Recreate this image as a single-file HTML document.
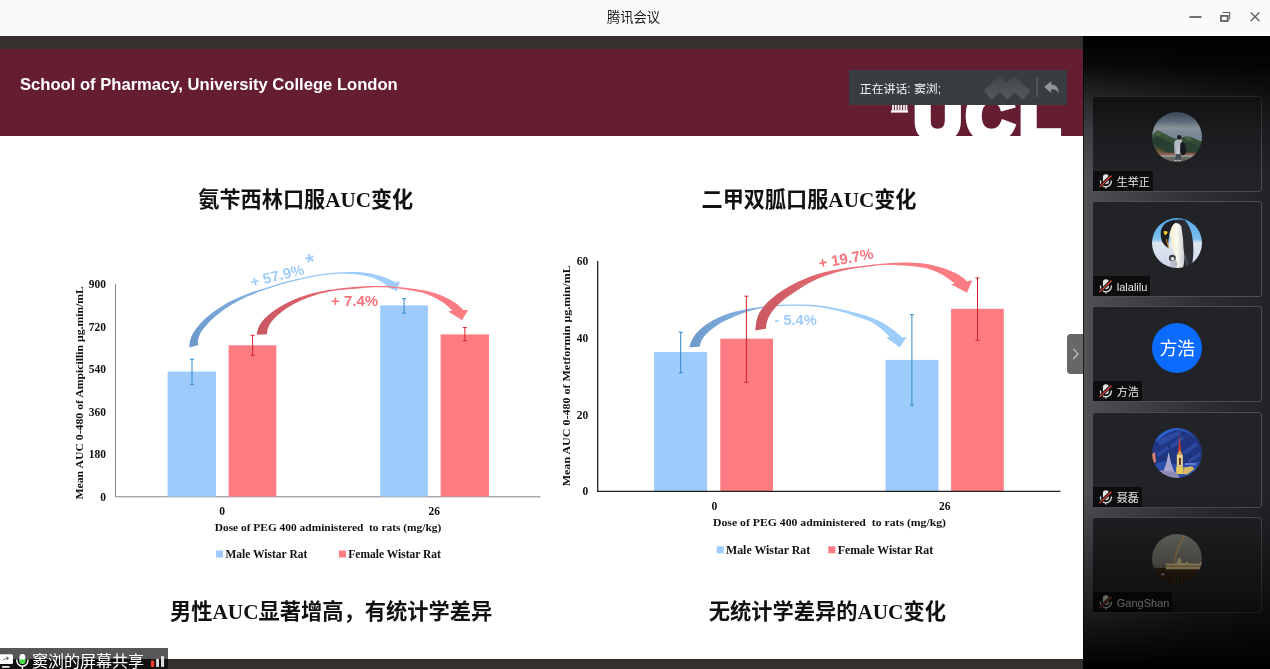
<!DOCTYPE html>
<html lang="zh-CN">
<head>
<meta charset="utf-8">
<title>腾讯会议</title>
<style>
html,body{margin:0;padding:0;}
body{width:1270px;height:669px;overflow:hidden;position:relative;background:#fff;font-family:"Liberation Sans","Noto Sans CJK SC",sans-serif;}
.abs{position:absolute;}
#titlebar{left:0;top:0;width:1270px;height:35px;background:#fafafa;border-bottom:1px solid #fff;}
#apptitle{left:-1.5px;width:1270px;top:8.6px;height:18px;line-height:18px;text-align:center;font-size:13.3px;color:#1a1a1a;}
#stage{left:0;top:36px;width:1083px;height:633px;background:#35302e;overflow:hidden;}
#slide{left:0;top:13px;width:1083px;height:610px;background:#fff;overflow:hidden;}
#banner{left:0;top:0;width:1083px;height:87px;background:#651d32;overflow:hidden;}
#school{left:20px;top:26.3px;font-size:16.6px;line-height:20px;font-weight:bold;color:#fff;white-space:nowrap;}
#ucl{left:914px;top:33.7px;font-size:66px;line-height:66px;font-weight:bold;color:#fff;-webkit-text-stroke:6.5px #fff;letter-spacing:0;white-space:nowrap;}
.ctitle{font-family:"Liberation Serif","Noto Sans CJK SC",serif;font-weight:bold;font-size:21px;line-height:26px;color:#111;white-space:nowrap;text-align:center;width:400px;filter:blur(.3px);}
#speak{left:848.5px;top:21px;width:218.5px;height:34.5px;background:#393c41;}
#speak span{position:absolute;left:11.3px;top:10.5px;font-size:11.9px;line-height:17px;color:#f2f2f2;white-space:nowrap;}
#tab{left:1067px;top:285.4px;width:16px;height:39.5px;background:#676767;border-radius:4px 0 0 4px;}
#share{left:0;top:612.3px;width:168px;height:24px;background:rgba(0,0,0,.66);color:#fff;font-size:16px;line-height:22px;white-space:nowrap;overflow:hidden;}
#share span{position:absolute;left:32px;top:2.6px;}
#sidebar{left:1083px;top:36px;width:187px;height:633px;background:linear-gradient(90deg,#1c1d1f 0,#1c1d1f 1px,#4e5054 1.5px,#3e4044 60px,#2b2d30 125px,#212326 187px);overflow:hidden;}
.card{left:9px;width:170px;height:96px;border:1px solid #4d4f53;border-radius:3px;background:#222326;box-sizing:border-box;}
.avatar{left:59px;top:15.4px;width:50px;height:50px;border-radius:50%;overflow:hidden;}
.tag{left:0;bottom:0;height:20px;background:#0c0d0d;color:#e9e9e9;font-size:11px;line-height:22px;padding:0 3px 0 23.8px;white-space:nowrap;}
.tag svg{position:absolute;left:4.5px;top:2px;}
.avatar>svg{display:block;filter:blur(.55px);}
.fade{left:0;width:187px;pointer-events:none;}
</style>
</head>
<body>
<div id="titlebar" class="abs"></div>
<div id="apptitle" class="abs">腾讯会议</div>
<svg class="abs" style="left:1180px;top:6px" width="90" height="24" viewBox="0 0 90 24">
  <g stroke="#5f6166" fill="none">
    <line x1="9.5" y1="11" x2="21.5" y2="11" stroke-width="1.8"/>
    <rect x="41" y="9.9" width="6.7" height="5.1" stroke-width="1.8"/>
    <path d="M42.6 6.5 H49.7 V13.6" stroke-width="1.1"/>
    <path d="M70.7 6.6 L79.4 15.1 M79.4 6.6 L70.7 15.1" stroke-width="1.4"/>
  </g>
</svg>

<div id="stage" class="abs">
 <div id="slide" class="abs">
  <div id="banner" class="abs">
    <div id="school" class="abs">School of Pharmacy, University College London</div>
    <div id="ucl" class="abs"><span style="letter-spacing:4.6px">U</span><span style="letter-spacing:5.6px">C</span><span>L</span></div>
    <svg class="abs" style="left:890px;top:50px" width="20" height="16" viewBox="0 0 20 16">
      <path d="M3 0V11M5.75 0V11M8.500 0V11M11.250 0V11M14 0V11M16.500 0V11" stroke="#fff" stroke-width="1.700"/>
      <rect x="1" y="11.2" width="17" height="2.4" fill="#fff"/>
    </svg>
    <div id="speak" class="abs"><span>正在讲话: 窦浏;</span>
      <svg class="abs" style="left:134px;top:5px" width="80" height="26" viewBox="0 0 80 26">
        <defs><linearGradient id="lg" x1="0" y1="0" x2="0" y2="1"><stop offset="0" stop-color="#42464b"/><stop offset="1" stop-color="#565a5e"/></linearGradient></defs>
        <path d="M2 15.5 L16 1.5 L23.5 9 L31 1.8 L46.5 16 L39.5 23.5 L31.8 16.3 L24.3 23.5 L16.5 16 L8.5 23.8Z" fill="url(#lg)" stroke="url(#lg)" stroke-width="1.5" stroke-linejoin="round"/>
        <rect x="53.3" y="2" width="1.8" height="20" fill="#565b61"/>
        <path d="M61.2 12 L68.2 6 V9.5 C72.700 9.500 75.700 12.500 75.800 18.200 C74.300 15.200 72.300 14.100 68.200 14.200 V18Z" fill="#8f9499"/>
      </svg>
    </div>
  </div>
  <svg class="abs" style="left:0;top:0;filter:blur(.3px)" width="1083" height="610" viewBox="0 49 1083 610">
<defs>
<linearGradient id="gb1" gradientUnits="userSpaceOnUse" x1="189" y1="0" x2="400" y2="0"><stop offset="0" stop-color="#6c9aca"/><stop offset="0.45" stop-color="#8dbcec"/><stop offset="0.7" stop-color="#9fcdfb"/></linearGradient>
<linearGradient id="gr1" gradientUnits="userSpaceOnUse" x1="256" y1="0" x2="468" y2="0"><stop offset="0" stop-color="#c85660"/><stop offset="0.4" stop-color="#e66a73"/><stop offset="0.7" stop-color="#fb7c83"/></linearGradient>
<linearGradient id="gb2" gradientUnits="userSpaceOnUse" x1="689" y1="0" x2="907" y2="0"><stop offset="0" stop-color="#6c9aca"/><stop offset="0.4" stop-color="#8dbcec"/><stop offset="0.6" stop-color="#9fcdfb"/></linearGradient>
<linearGradient id="gr2" gradientUnits="userSpaceOnUse" x1="755" y1="0" x2="972" y2="0"><stop offset="0" stop-color="#c85660"/><stop offset="0.35" stop-color="#e66a73"/><stop offset="0.6" stop-color="#fb7c83"/></linearGradient>
</defs>
<g font-family="'Liberation Serif',serif" font-weight="bold" font-size="11.5" fill="#111">
<text x="106" y="288.1" text-anchor="end">900</text>
<text x="106" y="330.6" text-anchor="end">720</text>
<text x="106" y="373.1" text-anchor="end">540</text>
<text x="106" y="415.5" text-anchor="end">360</text>
<text x="106" y="458.0" text-anchor="end">180</text>
<text x="106" y="500.5" text-anchor="end">0</text>
<text transform="translate(83.2 392.8) rotate(-90)" text-anchor="middle" font-size="10.4" textLength="213.5" lengthAdjust="spacingAndGlyphs">Mean AUC 0-480 of Ampicillin μg.min/mL</text>
<text x="222.2" y="514.8" text-anchor="middle">0</text><text x="434.3" y="514.8" text-anchor="middle">26</text>
<text x="328" y="530.600" text-anchor="middle" font-size="11.100" textLength="226.600" lengthAdjust="spacingAndGlyphs" xml:space="preserve">Dose of PEG 400 administered  to rats (mg/kg)</text>
<text x="225.500" y="557.500" font-size="11.500">Male Wistar Rat</text><text x="348.300" y="557.500" font-size="11.500">Female Wistar Rat</text>
</g>
<rect x="216" y="550.5" width="7" height="7" fill="#9dcbfb"/><rect x="339" y="550.5" width="7" height="7" fill="#fc7c82"/>
<path d="M115.5 284V496.800H540.500" stroke="#858585" stroke-width="1" fill="none"/>
<rect x="167.6" y="371.5" width="48.4" height="125.0" fill="#9dcbfb"/>
<rect x="228.6" y="345.3" width="47.7" height="151.2" fill="#fc7c82"/>
<rect x="380.2" y="305.4" width="47.7" height="191.1" fill="#9dcbfb"/>
<rect x="440.6" y="334.4" width="48.4" height="162.1" fill="#fc7c82"/>
<path d="M192.0 359.3V384.4M190.0 359.3h4M190.0 384.4h4" stroke="#2f87c9" stroke-width="1" fill="none"/>
<path d="M252.6 335.3V355.4M250.6 335.3h4M250.6 355.4h4" stroke="#d3222c" stroke-width="1" fill="none"/>
<path d="M404.1 298.7V313.1M402.1 298.7h4M402.1 313.1h4" stroke="#2f87c9" stroke-width="1" fill="none"/>
<path d="M464.9 327.6V340.8M462.9 327.6h4M462.9 340.8h4" stroke="#d3222c" stroke-width="1" fill="none"/>
<path d="M189.5 347.6C189.6 346.4 189.4 343.0 190.1 340.5C190.8 338.0 191.7 335.5 193.4 332.7C195.1 329.9 197.6 326.6 200.2 323.7C202.8 320.8 205.9 317.9 209.1 315.3C212.3 312.7 215.6 310.3 219.2 308.0C222.8 305.7 226.7 303.2 230.4 301.3C234.1 299.4 237.8 297.9 241.6 296.3C245.3 294.7 249.2 293.1 252.9 291.8C256.7 290.5 261.2 289.2 264.1 288.4C267.0 287.5 266.4 287.8 270.0 286.7C273.6 285.6 280.8 283.2 285.9 281.8C291.0 280.4 294.7 279.4 300.5 278.2C306.3 276.9 314.1 275.3 320.9 274.3C327.7 273.3 335.4 272.7 341.4 272.3C347.4 271.9 353.0 272.1 356.7 272.1C360.4 272.2 361.2 272.4 363.5 272.6C365.8 272.9 368.0 273.2 370.2 273.6C372.4 274.0 374.7 274.5 376.9 275.1C379.1 275.7 381.4 276.3 383.6 277.1C385.9 277.9 388.4 278.9 390.4 279.8C392.4 280.7 394.8 282.1 395.7 282.5L399.9 281.2L396.7 290.9L383.3 285.5L387.7 286.2C387.0 285.6 385.4 284.0 383.6 282.9C381.8 281.8 379.1 280.5 376.9 279.5C374.7 278.5 372.4 277.8 370.2 277.1C368.0 276.4 365.8 275.9 363.5 275.5C361.2 275.1 358.9 274.6 356.7 274.4C354.4 274.1 352.6 274.1 350.0 274.0C347.4 273.9 346.2 273.6 341.4 273.8C336.5 274.1 327.7 274.6 320.9 275.5C314.1 276.4 306.3 278.2 300.5 279.5C294.7 280.8 291.0 281.7 285.9 283.1C280.8 284.5 274.6 286.5 270.0 288.0C265.4 289.5 262.3 290.7 258.5 292.1C254.7 293.5 251.1 294.9 247.3 296.6C243.6 298.3 239.8 300.1 236.0 302.2C232.2 304.3 228.5 306.5 224.8 309.1C221.1 311.8 216.8 315.3 213.6 318.1C210.4 320.9 208.0 323.6 205.8 326.0C203.7 328.4 202.0 330.3 200.7 332.7C199.4 335.1 198.3 338.4 197.9 340.5C197.5 342.6 198.4 344.2 198.5 345.0Z" fill="url(#gb1)"/>
<path d="M256.7 334.7C256.9 333.6 257.3 330.5 258.1 328.4C258.9 326.3 260.1 324.3 261.7 322.1C263.3 319.9 265.4 317.6 267.9 315.4C270.4 313.2 273.9 310.7 276.9 308.7C279.9 306.7 282.9 305.1 285.9 303.5C288.9 301.9 291.8 300.6 294.8 299.3C297.8 298.1 300.8 297.0 303.8 296.0C306.8 295.0 309.7 294.1 312.7 293.3C315.7 292.5 318.7 291.8 321.7 291.2C324.7 290.6 327.4 290.2 330.7 289.7C334.0 289.2 336.2 288.7 341.4 288.2C346.6 287.7 354.9 286.9 361.9 286.5C368.9 286.1 377.7 286.0 383.6 286.1C389.5 286.2 392.7 286.5 397.1 286.9C401.5 287.2 406.2 287.7 410.0 288.2C413.8 288.7 417.2 289.2 420.0 289.7C422.8 290.1 424.4 290.4 426.7 290.9C428.9 291.4 431.2 292.0 433.5 292.7C435.8 293.4 438.0 294.2 440.2 295.1C442.4 296.0 444.7 297.0 446.9 298.1C449.1 299.2 451.4 300.3 453.6 301.8C455.9 303.3 458.8 305.5 460.4 306.9C462.0 308.2 462.6 309.4 463.0 309.9L468.1 309.9L462.0 320.3L448.3 311.6L452.3 310.8C452.2 310.6 452.5 310.8 451.6 309.9C450.7 309.0 448.8 307.0 446.9 305.5C445.0 304.0 442.4 302.2 440.2 300.8C438.0 299.4 435.8 298.2 433.5 297.1C431.2 296.0 428.9 294.9 426.7 294.1C424.4 293.3 422.8 292.8 420.0 292.1C417.2 291.5 413.8 290.9 410.0 290.2C406.2 289.5 401.5 288.7 397.1 288.2C392.7 287.7 388.1 287.4 383.6 287.3C379.1 287.2 375.5 287.1 370.2 287.4C364.9 287.7 356.7 288.5 351.7 288.9C346.7 289.3 343.5 289.6 340.0 290.0C336.5 290.4 333.8 290.8 330.7 291.3C327.6 291.9 324.7 292.5 321.7 293.3C318.7 294.1 315.7 295.0 312.7 296.0C309.7 297.0 306.8 298.1 303.8 299.3C300.8 300.6 297.8 301.9 294.8 303.5C291.8 305.1 288.9 306.6 285.9 308.7C282.9 310.8 279.4 313.7 276.9 315.9C274.4 318.1 272.6 320.0 271.1 322.1C269.6 324.2 268.6 326.4 267.9 328.4C267.2 330.4 267.1 333.2 266.9 334.2Z" fill="url(#gr1)"/>
<g font-family="'Liberation Sans',sans-serif" font-weight="bold">
<text transform="translate(252 287.4) rotate(-14)" font-size="14.8" fill="#9fcdfb">+ 57.9% <tspan dy="-3.3" dx="0" font-size="22">*</tspan></text>
<text x="331" y="305.8" font-size="15" fill="#f6747c">+ 7.4%</text>
</g>
<g font-family="'Liberation Serif',serif" font-weight="bold" font-size="11.5" fill="#111">
<text x="588.3" y="265.3" text-anchor="end">60</text>
<text x="588.3" y="342.0" text-anchor="end">40</text>
<text x="588.3" y="418.6" text-anchor="end">20</text>
<text x="588.3" y="495.1" text-anchor="end">0</text>
<text transform="translate(569.5 375.8) rotate(-90)" text-anchor="middle" font-size="10.6" textLength="221" lengthAdjust="spacingAndGlyphs">Mean AUC 0-480 of Metformin μg.min/mL</text>
<text x="714.3" y="510.2" text-anchor="middle">0</text><text x="944.7" y="510.2" text-anchor="middle">26</text>
<text x="829.500" y="525.800" text-anchor="middle" font-size="11.300" textLength="233" lengthAdjust="spacingAndGlyphs" xml:space="preserve">Dose of PEG 400 administered  to rats (mg/kg)</text>
<text x="726" y="553.600" font-size="11.850">Male Wistar Rat</text><text x="837.700" y="553.600" font-size="11.850">Female Wistar Rat</text>
</g>
<rect x="716.700" y="546.300" width="7" height="7" fill="#9dcbfb"/><rect x="828.300" y="546.300" width="7" height="7" fill="#fc7c82"/>
<rect x="654.1" y="352.1" width="53.0" height="138.9" fill="#9dcbfb"/>
<rect x="720.3" y="338.7" width="52.7" height="152.3" fill="#fc7c82"/>
<rect x="885.5" y="359.9" width="53.0" height="131.1" fill="#9dcbfb"/>
<rect x="951.1" y="308.8" width="52.7" height="182.2" fill="#fc7c82"/>
<path d="M597.7 261V491.3H1060.5" stroke="#222" stroke-width="1.3" fill="none"/>
<path d="M689.4 347.2C689.7 346.3 690.3 343.6 691.2 341.6C692.1 339.6 693.2 337.4 694.8 335.3C696.4 333.2 698.3 331.2 700.6 329.1C702.9 327.0 705.9 324.7 708.7 322.8C711.5 320.9 714.6 319.3 717.6 317.9C720.6 316.5 723.6 315.4 726.6 314.3C729.6 313.2 732.3 312.5 735.6 311.6C738.9 310.8 742.9 309.9 746.3 309.2C749.7 308.5 753.2 308.0 756.2 307.5C759.2 307.0 760.8 306.8 764.3 306.4C767.8 306.0 772.5 305.3 776.9 305.0C781.2 304.7 785.9 304.6 790.4 304.5C794.9 304.4 799.3 304.4 803.8 304.5C808.3 304.6 812.8 304.8 817.3 305.2C821.8 305.6 826.2 306.4 830.7 307.2C835.2 308.0 839.7 308.9 844.2 309.9C848.7 310.9 853.9 312.2 857.6 313.2C861.4 314.2 864.1 315.0 866.7 315.9C869.4 316.8 871.2 317.7 873.5 318.6C875.8 319.6 878.0 320.5 880.2 321.6C882.4 322.7 884.7 324.0 886.9 325.4C889.1 326.8 891.6 328.4 893.6 329.9C895.6 331.4 897.7 333.4 899.0 334.6C900.3 335.8 901.0 336.8 901.4 337.2L906.6 337.2L899.7 347.5L885.9 337.3L889.6 337.0C889.1 336.5 888.5 335.4 886.9 333.9C885.3 332.4 882.4 329.7 880.2 327.9C878.0 326.1 875.8 324.5 873.5 323.2C871.2 321.9 869.4 321.0 866.7 320.0C864.1 319.0 861.4 318.2 857.6 317.0C853.9 315.8 848.7 313.9 844.2 312.6C839.7 311.3 835.2 310.1 830.7 309.2C826.2 308.2 821.8 307.4 817.3 306.9C812.8 306.3 808.3 306.1 803.8 305.9C799.3 305.7 794.9 305.8 790.4 305.8C785.9 305.9 781.2 305.9 776.9 306.2C772.5 306.5 767.8 307.2 764.3 307.7C760.8 308.2 759.2 308.6 756.2 309.3C753.2 310.0 749.7 310.9 746.3 312.0C742.9 313.1 738.9 314.8 735.6 316.1C732.3 317.5 729.6 318.6 726.6 320.1C723.6 321.6 720.4 323.2 717.6 325.0C714.8 326.8 711.8 329.0 709.6 330.9C707.4 332.8 705.6 334.4 704.2 336.2C702.8 338.0 701.9 339.8 701.1 341.6C700.4 343.4 699.9 345.9 699.7 346.8Z" fill="url(#gb2)"/>
<path d="M755.4 330.5C755.6 328.8 755.8 323.3 756.7 320.0C757.6 316.7 758.5 313.9 760.8 310.5C763.0 307.1 766.4 303.3 770.2 299.8C774.0 296.3 779.1 292.6 783.6 289.7C788.1 286.8 792.6 284.5 797.1 282.3C801.6 280.1 806.0 278.3 810.5 276.6C815.0 274.9 819.5 273.4 824.0 272.2C828.5 271.0 833.0 270.3 837.5 269.5C842.0 268.7 845.5 268.1 850.9 267.3C856.3 266.5 864.3 265.5 870.0 264.9C875.7 264.2 878.7 263.8 885.0 263.4C891.3 263.0 900.9 262.6 907.6 262.6C914.3 262.7 921.0 263.3 925.0 263.7C929.0 264.1 929.5 264.6 931.7 265.1C934.0 265.6 936.2 266.2 938.5 266.8C940.8 267.4 943.0 268.0 945.2 268.8C947.4 269.6 949.7 270.5 951.9 271.5C954.1 272.5 956.6 273.6 958.6 274.8C960.6 276.0 962.6 277.4 964.0 278.5C965.4 279.6 966.2 280.9 966.7 281.4L972.3 280.2L967.0 292.7L950.9 284.3L954.6 283.5C954.1 283.1 953.5 282.4 951.9 281.2C950.3 280.0 947.4 277.9 945.2 276.5C943.0 275.1 940.8 273.9 938.5 272.8C936.2 271.7 934.0 270.9 931.7 270.1C929.5 269.3 929.0 268.8 925.0 268.1C921.0 267.4 914.3 266.2 907.6 265.7C900.9 265.2 891.3 264.8 885.0 264.9C878.7 265.0 875.7 265.8 870.0 266.5C864.3 267.2 856.3 268.1 850.9 269.0C845.5 269.9 842.0 270.8 837.5 272.0C833.0 273.2 828.5 274.5 824.0 276.2C819.5 277.9 815.0 279.9 810.5 282.3C806.0 284.7 801.6 287.5 797.1 290.4C792.6 293.3 787.6 296.4 783.6 299.8C779.6 303.2 775.6 307.1 772.9 310.5C770.2 313.9 768.7 317.0 767.5 320.0C766.3 323.0 766.2 327.2 765.9 328.7Z" fill="url(#gr2)"/>
<path d="M680.7 332.2V372.8M678.7 332.2h4M678.7 372.8h4" stroke="#2f87c9" stroke-width="1" fill="none"/>
<path d="M746.4 296.2V382.3M744.4 296.2h4M744.4 382.3h4" stroke="#d3222c" stroke-width="1" fill="none"/>
<path d="M911.9 314.7V405.3M909.9 314.7h4M909.9 405.3h4" stroke="#2f87c9" stroke-width="1" fill="none"/>
<path d="M977.5 277.9V340.3M975.5 277.9h4M975.5 340.3h4" stroke="#d3222c" stroke-width="1" fill="none"/>
<g font-family="'Liberation Sans',sans-serif" font-weight="bold">
<text x="774.5" y="324.8" font-size="14.6" fill="#9fcdfb">- 5.4%</text>
<text transform="translate(819.5 268.6) rotate(-10.6)" font-size="15" fill="#f6747c">+ 19.7%</text>
</g>
</svg>
  <div class="abs ctitle" style="left:105.8px;top:137.6px;font-size:21.15px">氨苄西林口服AUC变化</div>
  <div class="abs ctitle" style="left:609px;top:137.6px;font-size:21.15px">二甲双胍口服AUC变化</div>
  <div class="abs ctitle" style="left:131.1px;top:549.7px;font-size:21.25px">男性AUC显著增高，有统计学差异</div>
  <div class="abs ctitle" style="left:627.3px;top:549.7px;font-size:21.25px">无统计学差异的AUC变化</div>
  <div id="tab" class="abs"><svg width="16" height="39.5" viewBox="0 0 16 39.5"><path d="M6.200 14.800 L11 19.900 L6.200 25" stroke="#c8c8c8" stroke-width="1.2" fill="none"/></svg></div>
 </div>
 <div id="share" class="abs">
   <svg class="abs" style="left:0;top:0" width="168" height="24" viewBox="0 -0.1 168 24">
     <rect x="-2" y="6.2" width="15" height="9.8" rx="1.5" fill="#fff"/>
     <path d="M3 12.5 C4.5 10.5 6 10.2 8 10.2 M6.5 8.8 L8.6 10.2 L6.8 11.8" stroke="#555" stroke-width="1" fill="none"/>
     <rect x="2" y="18" width="7.5" height="1.6" fill="#fff"/>
     <rect x="19.5" y="5.8" width="5.8" height="10" rx="2.9" fill="#fff"/>
     <path d="M19.5 11.5 H25.3 V12.9 A2.9 2.9 0 0 1 19.5 12.9Z" fill="#3fe63f"/>
     <path d="M16.8 11.5 V12.5 A5.6 5.6 0 0 0 28 12.5 V11.5 M22.4 18 V21" stroke="#fff" stroke-width="1.4" fill="none"/>
     <rect x="150.9" y="12.5" width="3.3" height="6.3" rx="1" fill="#fb3b30"/>
     <rect x="156.1" y="10.7" width="2.9" height="8.1" rx="1" fill="#dcdde0"/>
     <rect x="161" y="7.8" width="3.1" height="11" rx="1" fill="#dcdde0"/>
   </svg>
   <span>窦浏的屏幕共享</span>
 </div>
</div>

<div id="sidebar" class="abs">
<div class="abs card" style="top:60.0px"><div class="abs avatar"><svg width="50" height="50" viewBox="0 0 50 50">
<defs><linearGradient id="a1s" x1="0" y1="0" x2="0" y2="1"><stop offset="0" stop-color="#5f7289"/><stop offset="0.18" stop-color="#8196ab"/><stop offset="0.3" stop-color="#aebbc7"/><stop offset="0.4" stop-color="#9fb0c0"/><stop offset="0.52" stop-color="#8da2b5"/><stop offset="0.6" stop-color="#a3b4c3"/></linearGradient>
<linearGradient id="a1m" x1="0" y1="0" x2="0" y2="1"><stop offset="0" stop-color="#4f7050"/><stop offset="0.5" stop-color="#3d5b40"/><stop offset="1" stop-color="#34503a"/></linearGradient></defs>
<rect width="50" height="50" fill="url(#a1s)"/>
<path d="M0 15 Q12 12.500 24 15 T50 14.500 V18 H0Z" fill="#b8c4ce" opacity=".55"/>
<path d="M0 23.500 L3 20.500 L5.800 18.600 L9 19.800 L13 22 L18 24.500 L22 26.500 L27 27 L31 25 L34.500 24.400 L39 25 L43 26.800 L50 29.500 V42 H0Z" fill="url(#a1m)"/>
<path d="M0 27 L5 24.500 L10 26 L16 30 L24 33.500 L30 32 L36 30 L44 33 L50 35 V42 H0Z" fill="#304a3b"/>
<path d="M3 22 L6 19.500 L9 21.500 L7 24Z M33 26 L36 25 L40 27 L37 29Z" fill="#6a8a58" opacity=".7"/>
<path d="M0 32 L6 35 L12 38.500 L18 41.500 H0Z" fill="#56583a"/>
<path d="M0 36 L8 39 L14 41.500 H0Z" fill="#7a6a45"/>
<rect x="0" y="40.800" width="50" height="2.800" fill="#9a6a5b"/>
<rect x="5" y="43.300" width="40" height="1.500" fill="#b5b4ab"/>
<rect x="0" y="44.800" width="50" height="6" fill="#59605a"/>
<path d="M10 45 H40 L38 50 H14Z" fill="#6f746c"/>
<circle cx="27.300" cy="25.200" r="2.300" fill="#2b2428"/>
<path d="M22.300 31 Q22.600 27.500 26.300 27.400 H29.600 Q31 29 30.500 42.300 H23 Q21.800 36 22.300 31Z" fill="#d6dee7"/>
<path d="M23 30 Q23.500 36 23.800 42.300 H23 Q21.800 36 22.300 31Z" fill="#aab6c4"/>
<path d="M28.400 31.500 Q30.500 28.400 32.400 30.800 L34.200 38 Q34.500 43.200 31 43.200 Q27.900 43 28.100 39Z" fill="#1a1d24"/>
<path d="M24 42.300 H29.500 L28.600 48 H27 L26.800 45 L25 48 H23.200Z" fill="#46525e"/>
<path d="M26.200 48 h2.300 v1 h-2.300Z M22.500 48 h2.300 v1 h-2.300Z" fill="#c9ced4"/>
</svg></div><div class="abs tag"><svg width="22" height="19" viewBox="0 0 22 19"><rect x="4.9" y="1.2" width="6" height="10" rx="3" fill="#e4e4e4"/><path d="M2.500 7.600V8.400A5.400 5.400 0 0 0 13.300 8.400V7.600M7.900 13.800V15.400" stroke="#e4e4e4" stroke-width="1.300" fill="none"/><path d="M1.500 14.100L13.400 2.700" stroke="#0c0d0d" stroke-width="3"/><path d="M1.500 14.100L13.400 2.700" stroke="#e8463d" stroke-width="1.300"/></svg>生举正</div></div>
<div class="abs card" style="top:165.3px"><div class="abs avatar"><svg width="50" height="50" viewBox="0 0 50 50">
<defs><linearGradient id="a2s" x1="0" y1="0" x2="0" y2="1"><stop offset="0" stop-color="#4fa5e6"/><stop offset="0.42" stop-color="#7fc0ee"/><stop offset="0.5" stop-color="#dfe7f3"/><stop offset="1" stop-color="#cdd6e8"/></linearGradient>
<linearGradient id="a2b" x1="0" y1="0" x2="1" y2="0"><stop offset="0" stop-color="#f1ecc8"/><stop offset="0.5" stop-color="#fbfaf2"/><stop offset="1" stop-color="#c9cbd0"/></linearGradient></defs>
<rect width="50" height="50" fill="url(#a2s)"/>
<path d="M17 3.5 Q24 0.5 32.7 2 Q38 8 40 17 Q42.5 30 40.5 44 L37 50 H27 Q33 30 28 8 Q24 4 17 3.500Z" fill="#2c2c33"/>
<path d="M20.5 6 Q26 3.500 29.2 8 Q31.500 20 31.500 30 Q33.500 42 31 50 H25 Q24.500 42 22.500 36 Q19 26 17.500 17 Q17 10 20.500 6Z" fill="url(#a2b)"/>
<path d="M22 2.200 Q12 3 9 12 Q8 19.500 10.600 24.500 Q13.500 29 16.600 30.200 Q16 27 16.500 22 Q17 15 19.500 9.500 Q20.500 6.500 23 5Z" fill="#1d1d24"/>
<path d="M11.500 13.500 Q13.500 12.500 15.800 14 Q14.800 16.500 13.300 17.200 Q11.800 16 11.500 13.500Z" fill="#f5d21f"/>
<path d="M14.200 21 L16.800 30.400" stroke="#e89a2a" stroke-width="0.9"/>
<ellipse cx="20.4" cy="40" rx="3.4" ry="3.2" fill="#3a3a40"/>
<ellipse cx="20.6" cy="40.8" rx="1.9" ry="1.700" fill="#e9e9ee"/>
<ellipse cx="22" cy="46" rx="3.600" ry="3.800" fill="#b9bcc6"/>
<path d="M33 37 Q36 44 35 50" stroke="#55627a" stroke-width="1" fill="none"/>
</svg></div><div class="abs tag"><svg width="22" height="19" viewBox="0 0 22 19"><rect x="4.9" y="1.2" width="6" height="10" rx="3" fill="#e4e4e4"/><path d="M2.500 7.600V8.400A5.400 5.400 0 0 0 13.300 8.400V7.600M7.900 13.800V15.400" stroke="#e4e4e4" stroke-width="1.300" fill="none"/><path d="M1.500 14.100L13.400 2.700" stroke="#0c0d0d" stroke-width="3"/><path d="M1.500 14.100L13.400 2.700" stroke="#e8463d" stroke-width="1.300"/></svg>lalalilu</div></div>
<div class="abs card" style="top:270.4px"><div class="abs avatar"><div style="width:50px;height:50px;background:#0b6bff;color:#fff;font-size:18px;line-height:50px;text-align:center;letter-spacing:-0.5px;padding-top:1px">方浩</div></div><div class="abs tag"><svg width="22" height="19" viewBox="0 0 22 19"><rect x="4.9" y="1.2" width="6" height="10" rx="3" fill="#e4e4e4"/><path d="M2.500 7.600V8.400A5.400 5.400 0 0 0 13.300 8.400V7.600M7.900 13.800V15.400" stroke="#e4e4e4" stroke-width="1.300" fill="none"/><path d="M1.500 14.100L13.400 2.700" stroke="#0c0d0d" stroke-width="3"/><path d="M1.500 14.100L13.400 2.700" stroke="#e8463d" stroke-width="1.300"/></svg>方浩</div></div>
<div class="abs card" style="top:375.8px"><div class="abs avatar"><svg width="50" height="50" viewBox="0 0 50 50">
<defs><linearGradient id="a4s" x1="0" y1="0" x2="1" y2="1"><stop offset="0" stop-color="#2a6fe8"/><stop offset="0.3" stop-color="#2a58c4"/><stop offset="0.6" stop-color="#1d3278"/><stop offset="1" stop-color="#1a2a66"/></linearGradient></defs>
<rect width="50" height="50" fill="url(#a4s)"/>
<path d="M0 16 L14 6 L24 2 L34 4 L44 12 L50 20 V40 H0Z" fill="#203680"/>
<path d="M4 12 L26 3 L30 6 L8 18Z M18 17 L30 8 L32 11 L20 21Z M30 24 L44 14 L46 17 L33 27Z M4 26 L16 18 L17 21 L6 29Z M36 32 L48 24 L49 27 L38 35Z" fill="#3b62c6" opacity=".45"/>
<path d="M0 26 L3 24 L4 34 L0 36Z" fill="#d77f68"/>
<path d="M0 37 L12 33 L26 37 L50 33 V50 H0Z" fill="#2c4eab"/>
<path d="M13 42 L16.600 24 L20.500 42Z" fill="#b4b0d4"/>
<path d="M11 44 L16.600 30 L22.500 44Z" fill="#a9a6cc"/>
<path d="M27.500 5.800 L29.500 27 H25.800Z" fill="#c63b2a"/>
<rect x="24.8" y="26.8" width="6" height="12" fill="#ead08c"/>
<path d="M24.8 27 L27.800 22 L30.800 27Z" fill="#d9a35a"/>
<rect x="27" y="30" width="1.8" height="7" fill="#5a2a22"/>
<rect x="24.2" y="38.600" width="6.800" height="7.500" fill="#e6c95c"/>
<path d="M31.500 39.500 L40 38.200 L42.500 41 L35 46.500 L31 46Z" fill="#d8b768"/>
<path d="M5 42 L24 44 L28 50 H8Z" fill="#8f8bb8"/>
<path d="M33 35 H44 V37 H33Z" fill="#5f7fd6"/>
</svg></div><div class="abs tag"><svg width="22" height="19" viewBox="0 0 22 19"><rect x="4.9" y="1.2" width="6" height="10" rx="3" fill="#e4e4e4"/><path d="M2.500 7.600V8.400A5.400 5.400 0 0 0 13.300 8.400V7.600M7.900 13.800V15.400" stroke="#e4e4e4" stroke-width="1.300" fill="none"/><path d="M1.500 14.100L13.400 2.700" stroke="#0c0d0d" stroke-width="3"/><path d="M1.500 14.100L13.400 2.700" stroke="#e8463d" stroke-width="1.300"/></svg>聂磊</div></div>
<div class="abs card" style="top:481.2px"><div class="abs avatar"><svg width="50" height="50" viewBox="0 0 50 50">
<defs><linearGradient id="a5s" x1="0" y1="0" x2="0" y2="1"><stop offset="0" stop-color="#74756f"/><stop offset="0.6" stop-color="#6e6c64"/><stop offset="0.7" stop-color="#5e574a"/></linearGradient></defs>
<rect width="50" height="50" fill="url(#a5s)"/>
<path d="M32.300 1.500 Q24.500 14 22 30" stroke="#a8935a" stroke-width="1.8" fill="none" opacity=".75"/>
<path d="M31.500 1.500 Q23.700 14 21.200 30" stroke="#a0604a" stroke-width="0.8" fill="none" opacity=".8"/>
<path d="M33.100 1.800 Q25.400 14 22.900 30" stroke="#6f8a6a" stroke-width="0.8" fill="none" opacity=".7"/>
<path d="M10.500 8 Q8.500 20 8.700 34" stroke="#8a7a5c" stroke-width="1.200" fill="none" opacity=".4"/>
<rect x="0" y="34" width="50" height="16" fill="#2b1e12"/>
<path d="M13.800 29.500 H24 L26.300 25.500 H28.800 L29.500 29 H33 L35 27.500 L37 29.500 H48 V28 H50 V35.500 H13.800Z" fill="#c7b482"/>
<path d="M14 31.500 H49 V33 H14Z" fill="#9a8552"/>
<path d="M26.500 23.800 H28.300 V27 H26.500Z" fill="#d3c08e"/>
<rect x="9" y="39.500" width="3.500" height="1.800" fill="#8d8a80"/>
<path d="M4 35.500 H50 V37.500 H4Z" fill="#3c2a18"/>
<path d="M22 38 V50 M30 38 V50 M37 38 V50" stroke="#4a2418" stroke-width="1"/>
<path d="M26 40 V50 M34 40 V50" stroke="#1f3a2a" stroke-width="1.500"/>
</svg></div><div class="abs tag"><svg width="22" height="19" viewBox="0 0 22 19"><rect x="4.9" y="1.2" width="6" height="10" rx="3" fill="#e4e4e4"/><path d="M2.500 7.600V8.400A5.400 5.400 0 0 0 13.300 8.400V7.600M7.900 13.800V15.400" stroke="#e4e4e4" stroke-width="1.300" fill="none"/><path d="M1.500 14.100L13.400 2.700" stroke="#0c0d0d" stroke-width="3"/><path d="M1.500 14.100L13.400 2.700" stroke="#e8463d" stroke-width="1.300"/></svg>GangShan</div></div>
 <div class="abs fade" style="top:0;height:140px;background:linear-gradient(180deg,#000 0,rgba(0,0,0,.88) 30px,rgba(0,0,0,.5) 62px,rgba(0,0,0,.22) 95px,rgba(0,0,0,0) 140px)"></div>
 <div class="abs fade" style="bottom:0;height:175px;background:linear-gradient(0deg,#000 0,rgba(0,0,0,.82) 30px,rgba(0,0,0,.55) 70px,rgba(0,0,0,.3) 120px,rgba(0,0,0,0) 175px)"></div>
</div>
</body>
</html>
